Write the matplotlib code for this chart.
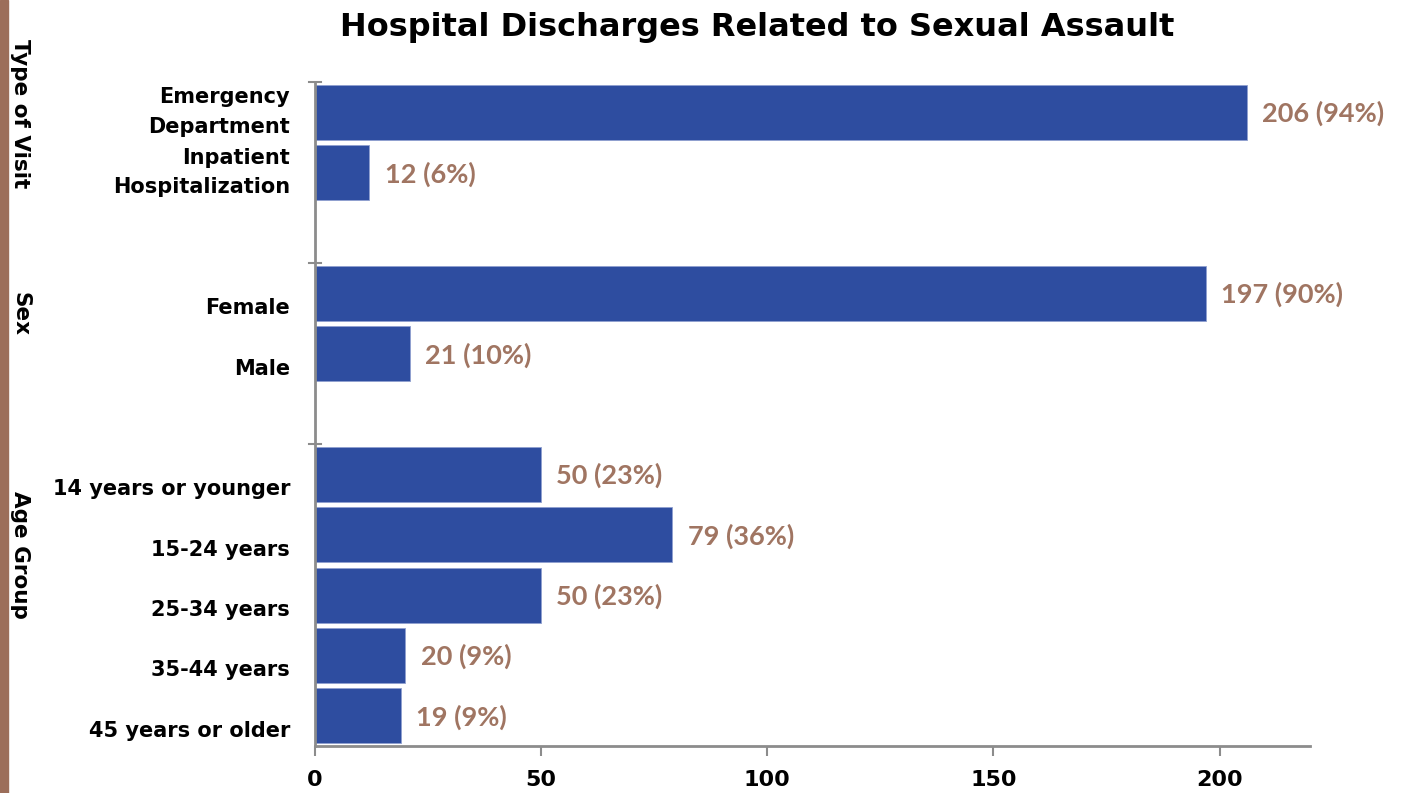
import matplotlib.pyplot as plt
from matplotlib.patches import Rectangle
from matplotlib.transforms import ScaledTranslation, blended_transform_factory

# --- data ---
categories = ["Emergency\nDepartment", "Inpatient\nHospitalization", "",
              "Female", "Male", "",
              "14 years or younger", "15-24 years", "25-34 years",
              "35-44 years", "45 years or older"]
counts = [206, 12, None, 197, 21, None, 50, 79, 50, 20, 19]
pcts = [94, 6, None, 90, 10, None, 23, 36, 23, 9, 9]
groups = ["Type of Visit", "Sex", "Age Group"]
x_ticks = [0, 50, 100, 150, 200]

bar_col = "#2E4DA0"
lbl_col = "#A07562"
grey = "#8C8C8C"
lab_font = "DejaVu Sans"
val_font = "Lato"

fig = plt.figure(figsize=(14.02, 7.93), dpi=100)
ax = fig.add_axes([0.2247, 0.0593, 0.7097, 0.8373])

ypos = list(range(len(categories)))
for y, c, p in zip(ypos, counts, pcts):
    if c is None:
        continue
    ax.barh(y, c, height=0.91, color=bar_col, edgecolor="#8FA0CF", linewidth=0.6)
    ax.annotate(f"{c} ({p}%)", xy=(c, y), xytext=(11, -1), textcoords="offset points",
                ha="left", va="center", fontsize=19.5, fontweight="bold",
                color=lbl_col, family=val_font)

ax.set_xlim(0, 220)
ax.set_ylim(len(categories) - 0.5, -0.5)

# category labels (one-line labels sit a bit below bar centre as in the original)
trans = blended_transform_factory(ax.transAxes, ax.transData)
for y, name in zip(ypos, categories):
    if not name:
        continue
    dy = 0 if "\n" in name else -15 / 100
    ax.text(-0.025, y, name, transform=trans + ScaledTranslation(0, dy, fig.dpi_scale_trans),
            ha="right", va="center", fontsize=15, fontweight="bold",
            family=lab_font, linespacing=1.6, color="black")

ax.set_yticks([])
ax.set_xticks(x_ticks)
ax.set_xticklabels([str(t) for t in x_ticks], fontsize=16, fontweight="bold", family=lab_font)
ax.tick_params(axis="x", direction="out", length=7, width=1.5, color=grey, pad=10)
for i in [0, 3, 6]:
    ax.plot([-0.006 * 220, 0.006 * 220], [i - 0.5, i - 0.5], color=grey, lw=1.5, clip_on=False)
for s in ["top", "right"]:
    ax.spines[s].set_visible(False)
for s in ["left", "bottom"]:
    ax.spines[s].set_color(grey)
    ax.spines[s].set_linewidth(2)

fig.text(0.54, 0.965, "Hospital Discharges Related to Sexual Assault", ha="center", va="center",
         fontsize=23, fontweight="bold", family=lab_font)

# group labels on the left
for name, yc in zip(groups, [1 - 114 / 793, 1 - 314 / 793, 1 - 555 / 793]):
    fig.text(0.0145, yc, name, rotation=-90, ha="center", va="center",
             fontsize=15.5, fontweight="bold", family=lab_font)

fig.patches.append(Rectangle((0, 0), 8 / 1402, 1, transform=fig.transFigure,
                             color="#9C6E5A", zorder=0))

fig.savefig("out.png", dpi=100)
